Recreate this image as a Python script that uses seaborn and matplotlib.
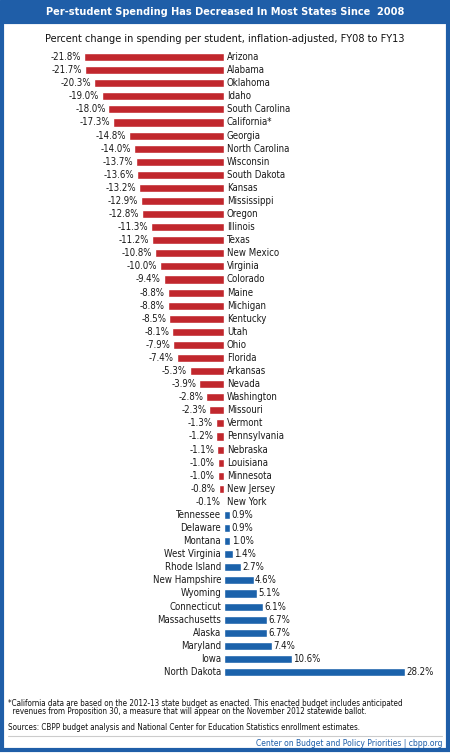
import matplotlib
matplotlib.use('Agg')
import matplotlib.pyplot as plt
import seaborn as sns
import pandas as pd
from matplotlib.patches import Rectangle
from matplotlib.lines import Line2D

# data
states = ['Arizona', 'Alabama', 'Oklahoma', 'Idaho', 'South Carolina', 'California*',
          'Georgia', 'North Carolina', 'Wisconsin', 'South Dakota', 'Kansas', 'Mississippi',
          'Oregon', 'Illinois', 'Texas', 'New Mexico', 'Virginia', 'Colorado', 'Maine',
          'Michigan', 'Kentucky', 'Utah', 'Ohio', 'Florida', 'Arkansas', 'Nevada',
          'Washington', 'Missouri', 'Vermont', 'Pennsylvania', 'Nebraska', 'Louisiana',
          'Minnesota', 'New Jersey', 'New York', 'Tennessee', 'Delaware', 'Montana',
          'West Virginia', 'Rhode Island', 'New Hampshire', 'Wyoming', 'Connecticut',
          'Massachusetts', 'Alaska', 'Maryland', 'Iowa', 'North Dakota']
change = [-21.8, -21.7, -20.3, -19.0, -18.0, -17.3, -14.8, -14.0, -13.7, -13.6, -13.2,
          -12.9, -12.8, -11.3, -11.2, -10.8, -10.0, -9.4, -8.8, -8.8, -8.5, -8.1, -7.9,
          -7.4, -5.3, -3.9, -2.8, -2.3, -1.3, -1.2, -1.1, -1.0, -1.0, -0.8, -0.1, 0.9,
          0.9, 1.0, 1.4, 2.7, 4.6, 5.1, 6.1, 6.7, 6.7, 7.4, 10.6, 28.2]

RED = '#c1272d'
BLUE = '#1b62ab'
FRAME = '#1f5ea8'

sns.set_style('white')
plt.rcParams['font.family'] = ['DejaVu Sans']
plt.rcParams['font.stretch'] = 'condensed'

df = pd.DataFrame({'state': states, 'change': change})
df['sign'] = ['neg' if v < 0 else 'pos' for v in df['change']]

fig = plt.figure(figsize=(4.5, 7.53), dpi=100)
ax = fig.add_axes([0, 0.0989, 1, 0.834])

sns.barplot(data=df, x='change', y='state', hue='sign', palette={'neg': RED, 'pos': BLUE},
            dodge=False, width=0.62, legend=False, ax=ax, orient='h', saturation=1)
ax.set_xlim(-34.9, 35.2)
ax.set_axis_off()

fs = 6.9
for i, (s, v) in enumerate(zip(states, change)):
    if v < 0:
        ax.text(v - 0.45, i, f'{v:.1f}%', ha='right', va='center', fontsize=fs, color='#1a1a1a')
        ax.text(0.45, i, s, ha='left', va='center', fontsize=fs, color='#1a1a1a')
    else:
        ax.text(-0.45, i, s, ha='right', va='center', fontsize=fs, color='#1a1a1a')
        ax.text(v + 0.2, i, f'{v:.1f}%', ha='left', va='center', fontsize=fs, color='#1a1a1a')

# header band and frame
fig.add_artist(Rectangle((0, 1 - 22 / 753), 1, 22 / 753, transform=fig.transFigure,
                         color=FRAME, zorder=0))
fig.add_artist(Rectangle((0.0035, 0.004), 0.993, 1 - 22 / 753 - 0.004, transform=fig.transFigure,
                         fill=False, edgecolor=FRAME, linewidth=3, zorder=5))
fig.text(0.5, 1 - 12 / 753, 'Per-student Spending Has Decreased In Most States Since  2008',
         ha='center', va='center', color='white', fontsize=7.8, fontweight='bold')
fig.text(0.5, 1 - 39 / 753,
         'Percent change in spending per student, inflation-adjusted, FY08 to FY13',
         ha='center', va='center', fontsize=7.8, color='#111111')

fig.text(8 / 450, 1 - 703 / 753,
         '*California data are based on the 2012-13 state budget as enacted. This enacted budget includes anticipated',
         ha='left', va='center', fontsize=5.8, color='#111111')
fig.text(8 / 450, 1 - 712 / 753,
         '  revenues from Proposition 30, a measure that will appear on the November 2012 statewide ballot.',
         ha='left', va='center', fontsize=5.8, color='#111111')
fig.text(8 / 450, 1 - 728 / 753,
         'Sources: CBPP budget analysis and National Center for Education Statistics enrollment estimates.',
         ha='left', va='center', fontsize=5.8, color='#111111')
fig.add_artist(Line2D([8 / 450, 442 / 450], [1 - 736 / 753] * 2, transform=fig.transFigure,
                      color='#cccccc', linewidth=0.8))
fig.text(443 / 450, 1 - 743.5 / 753, 'Center on Budget and Policy Priorities | cbpp.org',
         ha='right', va='center', fontsize=6.1, color=FRAME, zorder=6)

plt.savefig('out.png', dpi=100)
